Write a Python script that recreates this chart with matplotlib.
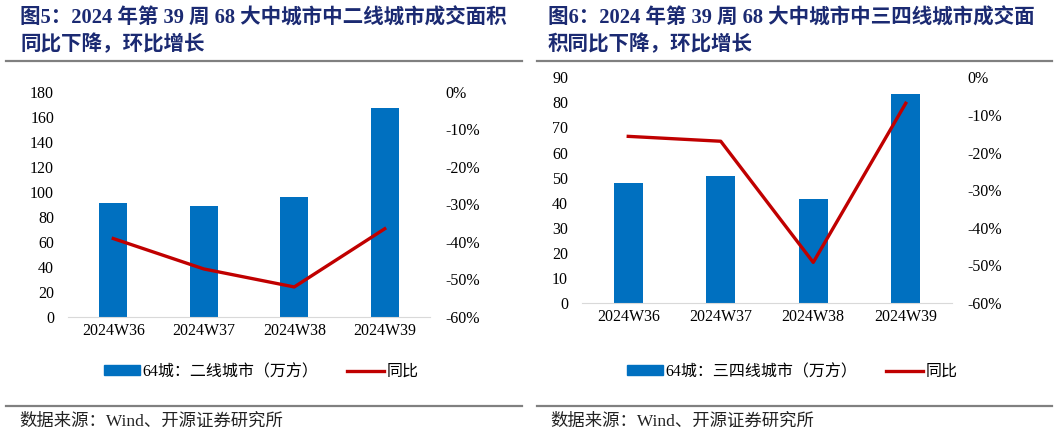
import matplotlib
matplotlib.use("Agg")
import matplotlib.pyplot as plt
from matplotlib.lines import Line2D
from matplotlib.patches import Patch
from matplotlib.ticker import FuncFormatter

# 数据
weeks = ["2024W36", "2024W37", "2024W38", "2024W39"]
area_l2 = [91, 88.5, 96, 167]          # 二线城市（万方）
yoy_l2 = [-39.1, -47.2, -52.0, -36.5]  # 同比 %
area_l34 = [48, 50.5, 41.6, 83.5]      # 三四线城市（万方）
yoy_l34 = [-15.7, -17.0, -49.2, -6.9]  # 同比 %

titles = [
    ("图5：2024 年第 39 周 68 大中城市中二线城市成交面积", "同比下降，环比增长"),
    ("图6：2024 年第 39 周 68 大中城市中三四线城市成交面", "积同比下降，环比增长"),
]
bar_labels = ["64城：二线城市（万方）", "64城：三四线城市（万方）"]
source = "数据来源：Wind、开源证券研究所"

FONTS = ["Liberation Serif", "Noto Sans CJK SC"]
plt.rcParams["font.family"] = FONTS
BLUE = "#0070C0"
RED = "#C00000"
NAVY = "#1B2A72"

W, H = 1057, 436
fig = plt.figure(figsize=(W / 100, H / 100), dpi=100)


def px(x0, y_top, w, h):
    return [x0 / W, (H - y_top - h) / H, w / W, h / H]


panels = [
    dict(rect=px(68, 91.7, 362, 225.3), area=area_l2, yoy=yoy_l2, ymax=180, ystep=20,
         tx=20, rule=(6, 522), src_x=19, leg_x=261),
    dict(rect=px(582, 77.3, 370, 225.7), area=area_l34, yoy=yoy_l34, ymax=90, ystep=10,
         tx=548, rule=(537, 1052), src_x=550, leg_x=792),
]

for i, p in enumerate(panels):
    ax = fig.add_axes(p["rect"])
    x = list(range(len(weeks)))
    ax.bar(x, p["area"], width=0.31, color=BLUE, zorder=2)
    ax.set_xlim(-0.5, len(weeks) - 0.5)
    ax.set_ylim(0, p["ymax"])
    ax.set_yticks(range(0, p["ymax"] + 1, p["ystep"]))
    ax.set_xticks(x)
    ax.set_xticklabels(weeks)
    for s in ["top", "right", "left"]:
        ax.spines[s].set_visible(False)
    ax.spines["bottom"].set_color("#D9D9D9")
    ax.tick_params(axis="y", length=0, pad=10, labelsize=11.5)
    ax.tick_params(axis="x", length=0, pad=4, labelsize=11.5)

    ax2 = ax.twinx()
    ax2.plot(x, p["yoy"], color=RED, lw=2.4, zorder=3)
    ax2.set_ylim(-60, 0)
    ax2.set_yticks(range(-60, 1, 10))
    ax2.yaxis.set_major_formatter(FuncFormatter(lambda v, _: f"{int(v)}%"))
    for s in ["top", "right", "left", "bottom"]:
        ax2.spines[s].set_visible(False)
    ax2.tick_params(axis="y", length=0, pad=11, labelsize=11.5)

    # 标题
    fig.text(p["tx"] / W, 1 - 18 / H, titles[i][0], fontsize=14.8, fontweight="bold",
             color=NAVY, va="center", ha="left")
    fig.text(p["tx"] / W, 1 - 45 / H, titles[i][1], fontsize=14.8, fontweight="bold",
             color=NAVY, va="center", ha="left")

    # 分隔线
    x0, x1 = p["rule"]
    fig.add_artist(Line2D([x0 / W, x1 / W], [1 - 61 / H] * 2, color="#808080", lw=1.6))
    fig.add_artist(Line2D([x0 / W, x1 / W], [1 - 406 / H] * 2, color="#808080", lw=1.6))

    # 图例
    handles = [Patch(color=BLUE, label=bar_labels[i]),
               Line2D([], [], color=RED, lw=2.4, label="同比")]
    fig.legend(handles=handles, loc="center", bbox_to_anchor=(p["leg_x"] / W, 1 - 372 / H),
               ncol=2, frameon=False, fontsize=11.5, handlelength=2.3, handleheight=0.6,
               handletextpad=0.15, columnspacing=1.8)

    fig.text(p["src_x"] / W, 1 - 422 / H, source, fontsize=12.5, va="center", ha="left",
             color="#222222")

fig.savefig("out.png", dpi=100)
plt.close(fig)
